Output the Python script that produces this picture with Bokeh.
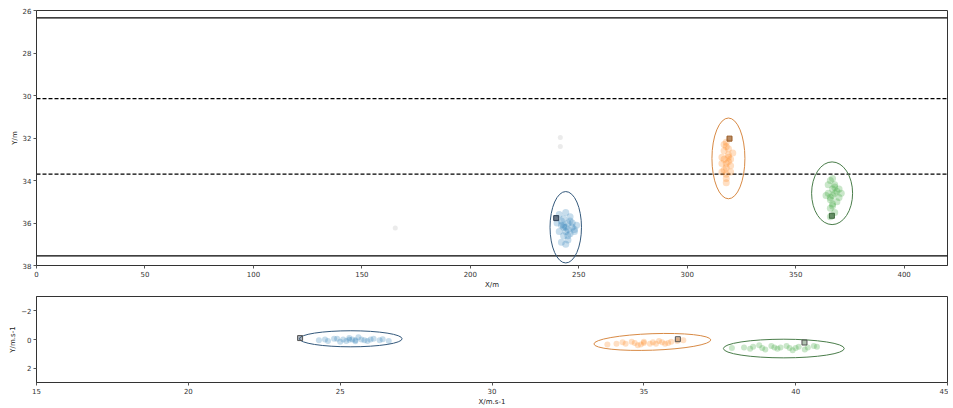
from bokeh.plotting import figure
from bokeh.layouts import column
from bokeh.models import Range1d, FixedTicker
from bokeh.embed import file_html
from bokeh.resources import INLINE

# ---------------- data ----------------
pos_x_ticks = [0, 50, 100, 150, 200, 250, 300, 350, 400]
pos_y_ticks = [26, 28, 30, 32, 34, 36, 38]
vel_x_ticks = [15, 20, 25, 30, 35, 40, 45]
vel_y_ticks = [-2, 0, 2]

lane_solid = [26.35, 37.55]
lane_dashed = [30.15, 33.7]

colors = ["#1f77b4", "#ff7f0e", "#2ca02c"]
edge_colors = ["#34597c", "#d88a45", "#4a7d4a"]
mark_colors = ["#2c3e55", "#9a5a22", "#3d6a3d"]

# position clouds
blue_top_x = [241, 243, 245, 247, 244, 242, 246, 248, 243, 245, 240, 244, 246, 242, 247, 243, 245, 249, 241, 244, 246, 243, 245, 242, 248, 244]
blue_top_y = [35.6, 35.8, 36.0, 36.2, 36.4, 36.1, 35.9, 36.3, 36.6, 36.8, 36.0, 35.5, 36.5, 36.9, 36.0, 36.2, 36.3, 36.1, 36.4, 37.0, 35.7, 36.1, 36.6, 35.9, 36.4, 36.2]
orange_top_x = [318, 317, 319, 320, 316, 318, 319, 317, 318, 320, 316, 319, 318, 317, 321, 318, 319, 317, 318, 320, 316, 318]
orange_top_y = [32.4, 32.6, 32.8, 33.0, 33.2, 33.4, 32.5, 33.0, 33.7, 33.3, 32.9, 33.1, 32.2, 33.5, 32.7, 33.9, 32.9, 32.3, 33.2, 33.6, 33.6, 34.1]
green_top_x = [366, 368, 367, 365, 369, 370, 366, 367, 368, 364, 371, 366, 368, 367, 369, 365, 367, 368, 366, 370, 367, 366]
green_top_y = [34.0, 34.2, 34.4, 34.6, 34.5, 34.8, 34.9, 35.1, 34.3, 34.7, 34.6, 35.3, 35.5, 33.9, 35.0, 34.2, 34.7, 34.6, 35.7, 34.4, 35.2, 34.8]

# velocity clouds
blue_v_x = [24.3, 24.6, 24.9, 25.1, 25.3, 25.5, 25.7, 25.9, 26.1, 26.3, 26.6, 25.0, 25.4, 25.6, 25.2, 25.8, 24.8, 26.0, 25.5, 25.3, 26.4, 24.5]
blue_v_y = [0.05, 0.1, -0.05, 0.0, -0.1, 0.05, 0.0, 0.1, -0.05, 0.05, 0.1, 0.15, 0.0, -0.15, 0.1, 0.05, -0.05, 0.0, 0.12, 0.02, -0.02, 0.0]
orange_v_x = [33.8, 34.1, 34.4, 34.7, 35.0, 35.3, 35.6, 35.9, 36.1, 34.9, 35.2, 35.5, 34.6, 35.8, 35.4, 34.3, 36.3, 35.0, 35.7, 34.8]
orange_v_y = [0.35, 0.3, 0.3, 0.25, 0.25, 0.2, 0.2, 0.15, 0.1, 0.35, 0.3, 0.1, 0.15, 0.25, 0.3, 0.2, 0.05, 0.15, 0.3, 0.4]
green_v_x = [37.9, 38.3, 38.6, 38.9, 39.2, 39.5, 39.8, 40.1, 40.4, 40.7, 39.0, 39.4, 39.7, 40.0, 38.8, 40.3, 39.3, 39.9, 38.5, 40.6]
green_v_y = [0.6, 0.55, 0.5, 0.6, 0.45, 0.55, 0.6, 0.5, 0.55, 0.5, 0.7, 0.65, 0.45, 0.6, 0.4, 0.7, 0.55, 0.75, 0.65, 0.45]

# faint stray points
stray_x = [241.5, 241.5, 165.4]
stray_y = [31.98, 32.4, 36.23]

# ellipses (center x, center y, width, height, angle)
pos_ell_x = [244.0, 319.0, 366.8]
pos_ell_y = [36.2, 32.96, 34.6]
pos_ell_w = [14.5, 15.2, 18.9]
pos_ell_h = [3.36, 3.8, 2.95]

vel_ell_x = [25.35, 35.28, 39.61]
vel_ell_y = [-0.05, 0.17, 0.63]
vel_ell_w = [3.38, 3.85, 3.98]
vel_ell_h = [1.12, 1.15, 1.3]
vel_ell_a = [0.0, 0.035, 0.0]

# measurement squares
pos_mark_x = [239.6, 319.5, 366.7]
pos_mark_y = [35.77, 32.03, 35.66]
vel_mark_x = [23.68, 36.12, 40.29]
vel_mark_y = [-0.1, -0.02, 0.21]

FONT = "DejaVu Sans"


def style(p, xlabel, ylabel, xticks, yticks):
    p.xgrid.visible = False
    p.ygrid.visible = False
    p.outline_line_color = "#333333"
    p.outline_line_width = 1
    p.xaxis.axis_label = xlabel
    p.yaxis.axis_label = ylabel
    p.xaxis.ticker = FixedTicker(ticks=xticks)
    p.yaxis.ticker = FixedTicker(ticks=yticks)
    for ax in (p.xaxis[0], p.yaxis[0]):
        ax.axis_label_text_font = FONT
        ax.axis_label_text_font_size = "7px"
        ax.axis_label_text_font_style = "normal"
        ax.axis_label_text_color = "#222222"
        ax.major_label_text_font = FONT
        ax.major_label_text_font_size = "7px"
        ax.major_label_text_color = "#333333"
        ax.axis_line_color = "#333333"
        ax.major_tick_line_color = "#555555"
        ax.major_tick_out = 3
        ax.major_tick_in = 0
        ax.minor_tick_line_color = None
        ax.axis_label_standoff = 1
        ax.major_label_standoff = 2
    p.min_border_left = 36
    p.min_border_right = 1
    p.background_fill_color = "white"
    p.border_fill_color = "white"


# ---------------- top panel ----------------
p1 = figure(width=948, height=291, output_backend="svg", toolbar_location=None,
            x_range=Range1d(0, 420), y_range=Range1d(38, 26))
style(p1, "X/m", "Y/m", pos_x_ticks, pos_y_ticks)
p1.min_border_top = 10
p1.min_border_bottom = 0

for yv in lane_solid:
    p1.line([0, 420], [yv, yv], line_color="black", line_width=1.2)
for yv in lane_dashed:
    p1.line([0, 420], [yv, yv], line_color="black", line_width=1.2, line_dash="4 2")

p1.scatter(stray_x, stray_y, size=5, color="#999999", alpha=0.2, line_color=None)
for xs, ys, c in [(blue_top_x, blue_top_y, colors[0]),
                  (orange_top_x, orange_top_y, colors[1]),
                  (green_top_x, green_top_y, colors[2])]:
    p1.scatter(xs, ys, size=7, color=c, alpha=0.25, line_color=None)

p1.ellipse(x=pos_ell_x, y=pos_ell_y, width=pos_ell_w, height=pos_ell_h,
           fill_color=None, line_color=edge_colors, line_width=1)
p1.scatter(pos_mark_x, pos_mark_y, marker="square", size=5,
           fill_color=mark_colors, line_color=mark_colors, fill_alpha=0.7)

# ---------------- bottom panel ----------------
p2 = figure(width=948, height=117, output_backend="svg", toolbar_location=None,
            x_range=Range1d(15, 45), y_range=Range1d(3, -3))
style(p2, "X/m.s-1", "Y/m.s-1", vel_x_ticks, vel_y_ticks)
p2.min_border_top = 5
p2.min_border_bottom = 0

for xs, ys, c in [(blue_v_x, blue_v_y, colors[0]),
                  (orange_v_x, orange_v_y, colors[1]),
                  (green_v_x, green_v_y, colors[2])]:
    p2.scatter(xs, ys, size=6, color=c, alpha=0.25, line_color=None)

p2.ellipse(x=vel_ell_x, y=vel_ell_y, width=vel_ell_w, height=vel_ell_h,
           angle=vel_ell_a, fill_color=None, line_color=edge_colors, line_width=1)
p2.scatter(vel_mark_x, vel_mark_y, marker="square", size=5,
           fill_color=mark_colors, line_color="#555555", fill_alpha=0.4)

layout = column(p1, p2, spacing=0)
open("out.html", "w").write(file_html(layout, INLINE))
